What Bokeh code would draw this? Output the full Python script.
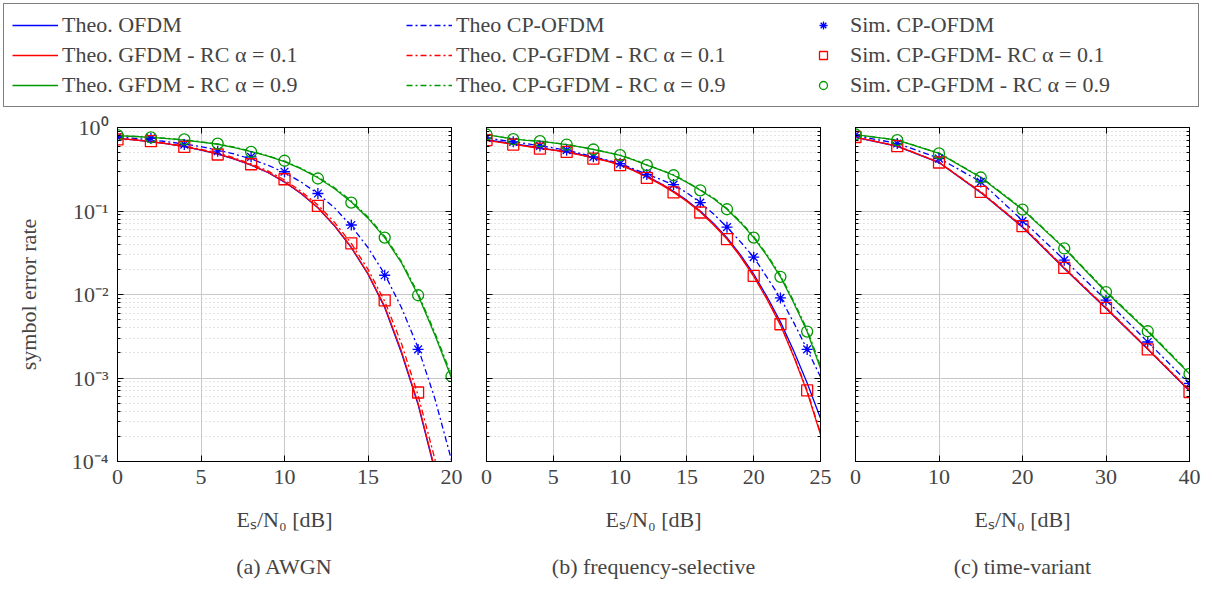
from bokeh.plotting import figure
from bokeh.models import (Range1d, FixedTicker, CustomJSTickFormatter, LinearAxis, LogAxis,
                          Legend, LegendItem)
from bokeh.layouts import column, row
from bokeh.embed import file_html
from bokeh.resources import INLINE

# ---------------- data ----------------
# (a) AWGN
awgn_x = list(range(0, 21))
awgn_theo_ofdm = [0.741, 0.710, 0.675, 0.635, 0.589, 0.537, 0.481, 0.419, 0.354, 0.289, 0.222,
                  0.161, 0.109, 0.066, 0.0364, 0.0175, 0.0070, 0.0020, 0.00048, 0.000078, 0.0000085]
awgn_theo_gfdm01 = [0.742, 0.712, 0.677, 0.637, 0.591, 0.539, 0.483, 0.421, 0.356, 0.291, 0.224,
                    0.163, 0.110, 0.067, 0.0370, 0.0178, 0.0072, 0.0021, 0.00050, 0.000082, 0.0000090]
awgn_theo_gfdm09 = [0.80, 0.78, 0.76, 0.735, 0.705, 0.67, 0.63, 0.575, 0.515, 0.455, 0.39,
                    0.32, 0.25, 0.185, 0.128, 0.082, 0.048, 0.024, 0.0098, 0.0033, 0.00100]
awgn_theo_cpofdm = [0.770, 0.741, 0.710, 0.675, 0.635, 0.589, 0.537, 0.481, 0.419, 0.354, 0.289,
                    0.222, 0.161, 0.109, 0.066, 0.0364, 0.0175, 0.0070, 0.0023, 0.00057, 0.000104]
awgn_theo_cpgfdm01 = [0.748, 0.718, 0.684, 0.645, 0.600, 0.549, 0.494, 0.433, 0.368, 0.302, 0.235,
                      0.172, 0.118, 0.073, 0.0410, 0.0200, 0.0083, 0.0026, 0.00062, 0.000108, 0.0000125]
awgn_theo_cpgfdm09 = [0.805, 0.785, 0.765, 0.74, 0.71, 0.675, 0.635, 0.58, 0.52, 0.46, 0.395,
                      0.325, 0.255, 0.19, 0.132, 0.085, 0.050, 0.025, 0.0103, 0.0035, 0.00108]
awgn_sim_x = [0, 2, 4, 6, 8, 10, 12, 14, 16, 18]
awgn_sim_cpofdm = [0.77, 0.74, 0.625, 0.52, 0.445, 0.295, 0.162, 0.068, 0.017, 0.0022]
awgn_sim_cpgfdm01 = [0.72, 0.685, 0.586, 0.475, 0.363, 0.24, 0.115, 0.041, 0.0085, 0.00067]
awgn_sim_x09 = [0, 2, 4, 6, 8, 10, 12, 14, 16, 18, 20]
awgn_sim_cpgfdm09 = [0.81, 0.76, 0.72, 0.64, 0.51, 0.40, 0.245, 0.126, 0.048, 0.0098, 0.00105]

# (b) frequency-selective
fs_x = list(range(0, 26))
fs_theo_ofdm = [0.71, 0.675, 0.64, 0.605, 0.57, 0.54, 0.51, 0.475, 0.435, 0.40, 0.36, 0.31, 0.26,
                0.215, 0.172, 0.134, 0.100, 0.071, 0.048, 0.030, 0.0175, 0.0094, 0.0047, 0.0021,
                0.00087, 0.00033]
fs_theo_gfdm01 = [0.70, 0.665, 0.63, 0.595, 0.56, 0.535, 0.505, 0.47, 0.43, 0.395, 0.355, 0.305,
                  0.255, 0.21, 0.168, 0.13, 0.097, 0.068, 0.046, 0.0285, 0.0165, 0.0087, 0.0043,
                  0.0018, 0.00068, 0.00021]
fs_theo_gfdm09 = [0.82, 0.77, 0.73, 0.70, 0.685, 0.655, 0.625, 0.585, 0.545, 0.505, 0.465, 0.41,
                  0.355, 0.31, 0.268, 0.22, 0.177, 0.14, 0.105, 0.073, 0.048, 0.029, 0.0163,
                  0.0079, 0.0036, 0.0013]
fs_theo_cpofdm = [0.75, 0.71, 0.675, 0.64, 0.605, 0.57, 0.535, 0.49, 0.445, 0.41, 0.37, 0.32,
                  0.275, 0.24, 0.205, 0.165, 0.126, 0.092, 0.064, 0.043, 0.028, 0.016, 0.0091,
                  0.0046, 0.0022, 0.00103]
fs_theo_cpgfdm01 = [0.705, 0.67, 0.635, 0.60, 0.565, 0.54, 0.51, 0.475, 0.435, 0.40, 0.36, 0.31,
                    0.26, 0.215, 0.172, 0.133, 0.099, 0.070, 0.047, 0.0293, 0.0170, 0.0090, 0.0044,
                    0.00185, 0.00071, 0.00022]
fs_theo_cpgfdm09 = [0.822, 0.772, 0.732, 0.702, 0.687, 0.657, 0.627, 0.587, 0.548, 0.508, 0.468,
                    0.413, 0.358, 0.313, 0.271, 0.223, 0.180, 0.143, 0.107, 0.075, 0.0495, 0.030,
                    0.0170, 0.0083, 0.0038, 0.00140]
fs_sim_x = [0, 2, 4, 6, 8, 10, 12, 14, 16, 18, 20, 22, 24]
fs_sim_cpofdm = [0.75, 0.673, 0.602, 0.535, 0.445, 0.37, 0.274, 0.207, 0.126, 0.064, 0.028, 0.0091, 0.0022]
fs_sim_cpgfdm01 = [0.705, 0.625, 0.56, 0.51, 0.425, 0.354, 0.249, 0.167, 0.096, 0.046, 0.0167, 0.0044, 0.00071]
fs_sim_cpgfdm09 = [0.824, 0.724, 0.685, 0.625, 0.545, 0.466, 0.354, 0.268, 0.177, 0.105, 0.048, 0.0163, 0.0036]

# (c) time-variant
tv_x = [0, 5, 10, 15, 20, 25, 30, 35, 40]
tv_theo_ofdm = [0.76, 0.595, 0.38, 0.166, 0.064, 0.0205, 0.0068, 0.0022, 0.00070]
tv_theo_gfdm01 = [0.765, 0.598, 0.382, 0.168, 0.065, 0.0207, 0.0069, 0.00222, 0.00071]
tv_theo_gfdm09 = [0.82, 0.705, 0.49, 0.252, 0.104, 0.0357, 0.0107, 0.0036, 0.00112]
tv_theo_cpofdm = [0.80, 0.645, 0.428, 0.224, 0.077, 0.026, 0.0086, 0.0027, 0.00085]
tv_theo_cpgfdm01 = [0.77, 0.60, 0.385, 0.17, 0.066, 0.021, 0.0070, 0.00225, 0.00072]
tv_theo_cpgfdm09 = [0.822, 0.708, 0.495, 0.256, 0.106, 0.0365, 0.0110, 0.0037, 0.00115]
tv_sim_x = [0, 5, 10, 15, 20, 25, 30, 35, 40]
tv_sim_cpofdm = [0.81, 0.643, 0.425, 0.223, 0.0755, 0.0258, 0.00855, 0.0027, 0.00086]
tv_sim_cpgfdm01 = [0.77, 0.597, 0.381, 0.169, 0.0658, 0.0208, 0.0069, 0.0022, 0.00068]
tv_sim_cpgfdm09 = [0.824, 0.705, 0.489, 0.252, 0.104, 0.0356, 0.0107, 0.00363, 0.00112]

legend_labels = ["Theo. OFDM", "Theo CP-OFDM", "Sim. CP-OFDM",
                 "Theo. GFDM - RC \u03b1 = 0.1", "Theo. CP-GFDM - RC \u03b1 = 0.1", "Sim. CP-GFDM- RC \u03b1 = 0.1",
                 "Theo. GFDM - RC \u03b1 = 0.9", "Theo. CP-GFDM - RC \u03b1 = 0.9", "Sim. CP-GFDM - RC \u03b1 = 0.9"]
captions = ["(a) AWGN", "(b) frequency-selective", "(c) time-variant"]
x_label = "E\u209b/N\u2080 [dB]"
y_label = "symbol error rate"

# ---------------- style ----------------
FONT = "Liberation Serif"
FS = "22px"
BLUE, RED, GREEN = "#0000ff", "#ff0000", "#009900"
DASHDOT = "6 3 2 3"
LW = 1.3
GRID = "#c8c8c8"

Y_MAJOR = [1e-4, 1e-3, 1e-2, 1e-1, 1.0]
Y_MINOR = [m * 10.0 ** e for e in range(-4, 0) for m in range(2, 10)]

SUP_CODE = """
const sup = {'-':'\u207b','0':'\u2070','1':'\u00b9','2':'\u00b2','3':'\u00b3','4':'\u2074'};
const e = Math.round(Math.log10(tick));
return '10' + String(e).split('').map(c => sup[c]).join('');
"""
EMPTY_CODE = "return '';"


def draw_series(p, tx, theo, sims):
    ofdm, g01, g09, cpofdm, cpg01, cpg09 = theo
    r = []
    r.append(p.line(tx, ofdm, line_color=BLUE, line_width=LW))
    r.append(p.line(tx, cpofdm, line_color=BLUE, line_width=LW, line_dash=DASHDOT))
    r.append(p.line(tx, g01, line_color=RED, line_width=LW))
    r.append(p.line(tx, cpg01, line_color=RED, line_width=LW, line_dash=DASHDOT))
    r.append(p.line(tx, g09, line_color=GREEN, line_width=LW))
    r.append(p.line(tx, cpg09, line_color=GREEN, line_width=LW, line_dash=DASHDOT))
    (sx1, s1), (sx2, s2), (sx3, s3) = sims
    r.append(p.scatter(sx1, s1, marker="asterisk", size=11, line_color=BLUE, line_width=LW))
    r.append(p.scatter(sx2, s2, marker="square", size=11, line_color=RED, fill_color=None, line_width=LW))
    r.append(p.scatter(sx3, s3, marker="circle", size=11, line_color=GREEN, fill_color=None, line_width=LW))
    # order: ofdm, cpofdm, sim ofdm, gfdm01, cpgfdm01, sim01, gfdm09, cpgfdm09, sim09
    return [r[0], r[1], r[6], r[2], r[3], r[7], r[4], r[5], r[8]]


def make_panel(caption, xmax, xticks, tx, theo, sims, left, right, show_y):
    p = figure(frame_width=334, frame_height=334, x_range=Range1d(0, xmax),
               y_range=Range1d(1e-4, 1), y_axis_type="log", output_backend="svg",
               toolbar_location=None, min_border_left=left, min_border_right=right,
               min_border_top=15, min_border_bottom=128, title=caption, title_location="below")
    yt = FixedTicker(ticks=Y_MAJOR, minor_ticks=Y_MINOR)
    xt = FixedTicker(ticks=xticks, minor_ticks=[])
    p.yaxis.ticker = yt
    p.xaxis.ticker = xt
    p.ygrid.ticker = yt
    p.xgrid.ticker = xt
    p.outline_line_color = "black"
    p.outline_line_width = 1

    for ax in (p.xaxis[0], p.yaxis[0]):
        ax.major_tick_in = 6
        ax.major_tick_out = 0
        ax.minor_tick_in = 3
        ax.minor_tick_out = 0
        ax.major_label_text_font = FONT
        ax.major_label_text_font_size = FS
        ax.axis_label_text_font = FONT
        ax.axis_label_text_font_size = FS
        ax.axis_label_text_font_style = "normal"
        ax.axis_line_color = "black"
    p.xaxis[0].major_label_standoff = 8
    p.xaxis[0].axis_label = x_label
    p.xaxis[0].axis_label_standoff = 20
    if show_y:
        p.yaxis[0].formatter = CustomJSTickFormatter(code=SUP_CODE)
        p.yaxis[0].axis_label = y_label
        p.yaxis[0].major_label_standoff = 9
        p.yaxis[0].axis_label_standoff = 28
    else:
        p.yaxis[0].formatter = CustomJSTickFormatter(code=EMPTY_CODE)
        p.yaxis[0].major_label_standoff = 0

    ra = LogAxis(ticker=yt, formatter=CustomJSTickFormatter(code=EMPTY_CODE),
                 major_tick_in=6, major_tick_out=0, minor_tick_in=3, minor_tick_out=0,
                 major_label_standoff=0, major_label_text_font_size="1px")
    p.add_layout(ra, "right")
    ta = LinearAxis(ticker=xt, formatter=CustomJSTickFormatter(code=EMPTY_CODE),
                    major_tick_in=6, major_tick_out=0, minor_tick_in=0, minor_tick_out=0,
                    major_label_standoff=0, major_label_text_font_size="1px")
    p.add_layout(ta, "above")

    p.xgrid.grid_line_color = GRID
    p.ygrid.grid_line_color = GRID
    p.ygrid.minor_grid_line_color = GRID
    p.ygrid.minor_grid_line_dash = "1 3"

    p.title.text_font = FONT
    p.title.text_font_size = FS
    p.title.text_font_style = "normal"
    p.title.align = "center"
    p.title.standoff = 35

    draw_series(p, tx, theo, sims)
    return p


AWGN_THEO = [awgn_theo_ofdm, awgn_theo_gfdm01, awgn_theo_gfdm09,
             awgn_theo_cpofdm, awgn_theo_cpgfdm01, awgn_theo_cpgfdm09]
AWGN_SIMS = [(awgn_sim_x, awgn_sim_cpofdm), (awgn_sim_x, awgn_sim_cpgfdm01),
             (awgn_sim_x09, awgn_sim_cpgfdm09)]

p1 = make_panel(captions[0], 20, [0, 5, 10, 15, 20], awgn_x, AWGN_THEO, AWGN_SIMS, 117, 17, True)
p2 = make_panel(captions[1], 25, [0, 5, 10, 15, 20, 25], fs_x,
                [fs_theo_ofdm, fs_theo_gfdm01, fs_theo_gfdm09,
                 fs_theo_cpofdm, fs_theo_cpgfdm01, fs_theo_cpgfdm09],
                [(fs_sim_x, fs_sim_cpofdm), (fs_sim_x, fs_sim_cpgfdm01),
                 (fs_sim_x, fs_sim_cpgfdm09)], 18, 17, False)
p3 = make_panel(captions[2], 40, [0, 10, 20, 30, 40], tv_x,
                [tv_theo_ofdm, tv_theo_gfdm01, tv_theo_gfdm09,
                 tv_theo_cpofdm, tv_theo_cpgfdm01, tv_theo_cpgfdm09],
                [(tv_sim_x, tv_sim_cpofdm), (tv_sim_x, tv_sim_cpgfdm01),
                 (tv_sim_x, tv_sim_cpgfdm09)], 18, 22, False)

# ---------------- legend figure ----------------
# the legend's renderers show the AWGN data, but the view range keeps them out of sight
leg = figure(width=1212, height=112, x_range=Range1d(100, 101), y_range=Range1d(100, 101),
             output_backend="svg", toolbar_location=None, min_border=0)
leg.axis.visible = False
leg.grid.visible = False
leg.outline_line_color = None
rends = draw_series(leg, awgn_x, AWGN_THEO, AWGN_SIMS)

legend = Legend(items=[LegendItem(label=l, renderers=[r]) for l, r in zip(legend_labels, rends)],
                location="top_left", orientation="horizontal", ncols=3,
                margin=3, padding=8, spacing=4, glyph_width=46, glyph_height=20,
                label_standoff=4, label_width=340, label_height=20,
                label_text_font=FONT, label_text_font_size=FS,
                border_line_color="black", border_line_width=1,
                background_fill_color="white", background_fill_alpha=1.0)
leg.add_layout(legend)

layout = column(leg, row(p1, p2, p3))
open("out.html", "w").write(file_html(layout, INLINE))
